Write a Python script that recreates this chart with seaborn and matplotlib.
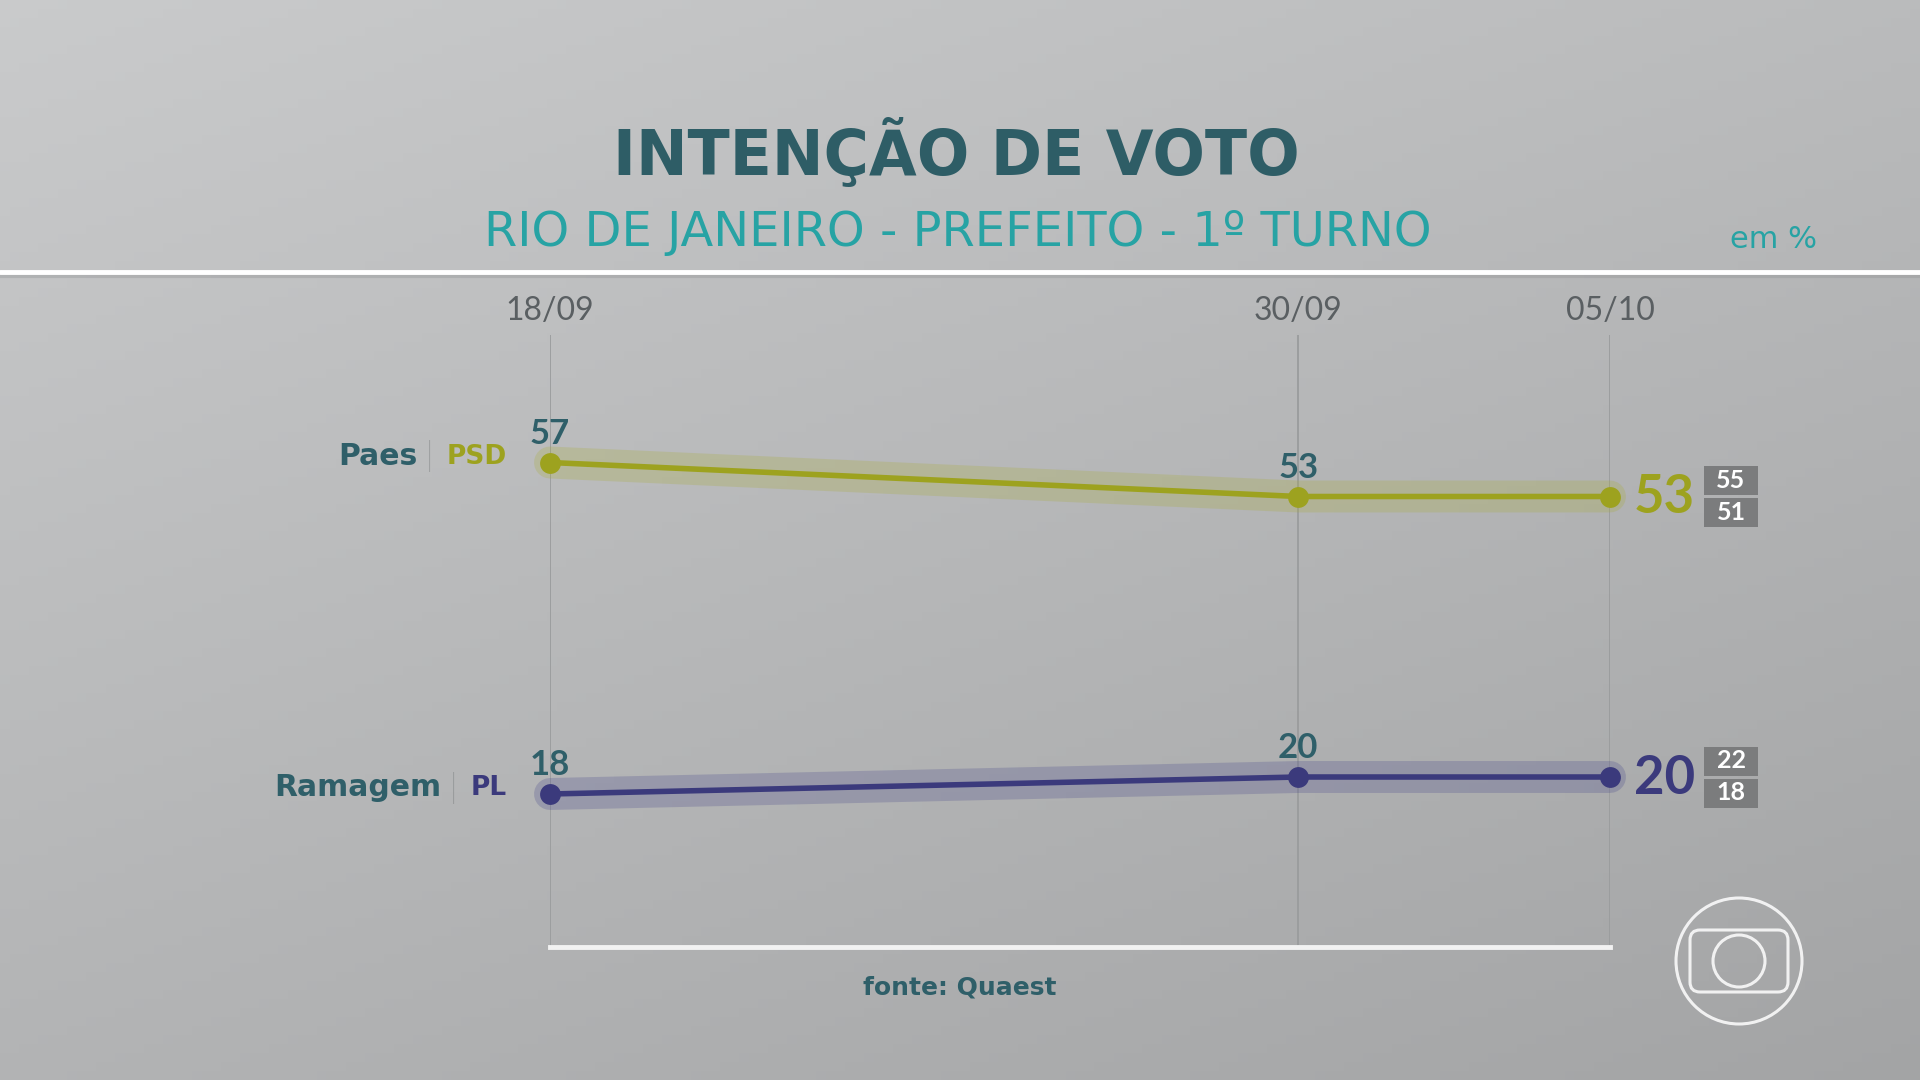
import numpy as np
import pandas as pd
import matplotlib
matplotlib.use("Agg")
import matplotlib.pyplot as plt
import matplotlib.dates as mdates
from matplotlib.patches import Rectangle, Circle, FancyBboxPatch
import seaborn as sns

# ---------------- data ----------------
dates = ["2024-09-18", "2024-09-30", "2024-10-05"]
candidates = ["Paes", "Ramagem"]
parties = ["PSD", "PL"]
paes = [57, 53, 53]
ramagem = [18, 20, 20]
upper = [55, 22]   # margin of error, last poll
lower = [51, 18]
colors = ["#9da21f", "#3b3a7c"]
halo_colors = ["#a9ad3a", "#4a4a8c"]

dt = pd.to_datetime(dates)
df = pd.DataFrame({
    "date": list(dt) * 2,
    "value": paes + ramagem,
    "cand": [candidates[0]] * 3 + [candidates[1]] * 3,
})

sns.set_theme(style="white")
plt.rcParams["font.family"] = ["Lato", "DejaVu Sans"]
WIDE = ["DejaVu Sans"]

W, H = 1920, 1080
fig = plt.figure(figsize=(19.2, 10.8), dpi=100)

# background gradient
bg = fig.add_axes([0, 0, 1, 1], zorder=-10)
gx, gy = np.meshgrid(np.linspace(0, 1, 200), np.linspace(0, 1, 120))
g = 0.79 - 0.06 * gx - 0.09 * gy
rgb = np.dstack([g, g + 0.004, g + 0.008])
bg.imshow(np.clip(rgb, 0, 1), extent=[0, 1, 0, 1], aspect="auto", origin="upper")
bg.set_xlim(0, 1); bg.set_ylim(0, 1)
bg.axis("off")
# top white separator with shadow
bg.axhline(1 - 276 / H, color="#8f9192", lw=3, alpha=0.35)
bg.axhline(1 - 272 / H, color="white", lw=3.5)

# main axes: left 550px, right 1610px, bottom 947px, top 335px
ax = fig.add_axes([550 / W, 1 - 947 / H, 1060 / W, 612 / H])
ax.patch.set_alpha(0)

pal = dict(zip(candidates, colors))
hpal = dict(zip(candidates, halo_colors))
sns.lineplot(data=df, x="date", y="value", hue="cand", palette=hpal, lw=23,
             alpha=0.26, legend=False, ax=ax, solid_capstyle="round")
sns.lineplot(data=df, x="date", y="value", hue="cand", palette=pal, lw=4,
             marker="o", markersize=15, markeredgewidth=0, legend=False, ax=ax)
for ln in ax.lines:
    ln.set_clip_on(False)

ax.set_xlim(dt[0], dt[-1])
ax.set_ylim(0, 72)
ax.set_xticks(dt)
ax.xaxis.set_major_formatter(mdates.DateFormatter("%d/%m"))
ax.xaxis.tick_top()
ax.tick_params(axis="x", length=0, pad=6.5, labelsize=23, labelcolor="#5a5f62")
ax.set_yticks([])
ax.set_xlabel(""); ax.set_ylabel("")
ax.grid(axis="x", color="#9a9c9d", lw=1.3)
ax.grid(axis="y", visible=False)
for s in ["top", "left", "right"]:
    ax.spines[s].set_visible(False)
ax.spines["bottom"].set_color("#f2f2f2")
ax.spines["bottom"].set_linewidth(3.5)

label_col = "#2f5f69"
series = [paes, ramagem]
fig.canvas.draw()
for i, vals in enumerate(series):
    # labels above non-final points
    for d, v in zip(dt[:-1], vals[:-1]):
        ax.annotate(str(v), (d, v), xytext=(0, 29), textcoords="offset pixels",
                    ha="center", va="center", fontsize=25, fontweight="bold",
                    color=label_col)
    # big final value
    ax.annotate(str(vals[-1]), (dt[-1], vals[-1]), xytext=(24, -1),
                textcoords="offset pixels", ha="left", va="center",
                fontsize=38, fontweight="bold", color=colors[i])
    # margin boxes
    px, py = ax.transData.transform((mdates.date2num(dt[-1]), vals[-1]))
    bw, bh = 54, 29
    bx = px + 94
    for (txt, y0) in [(upper[i], py + 1.5), (lower[i], py - 1.5 - bh)]:
        fig.add_artist(Rectangle((bx / W, y0 / H), bw / W, bh / H,
                                 transform=fig.transFigure, fc="#7b7c7d", ec="none"))
        fig.text((bx + bw / 2) / W, (y0 + bh / 2) / H, str(txt), ha="center",
                 va="center", fontsize=18, fontweight="bold", color="white")
    # left name | party
    t1 = ax.annotate(parties[i], (dt[0], vals[0]), xytext=(-43, 6),
                     textcoords="offset pixels", ha="right", va="center",
                     fontsize=19, fontweight="bold", color=colors[i], family=WIDE)
    t2 = ax.annotate("|", xy=(0, 0.5), xycoords=t1, xytext=(-14, 0),
                     textcoords="offset pixels", ha="right", va="center",
                     fontsize=24, fontweight="light", color="#6f7476")
    ax.annotate(candidates[i], xy=(0, 0.5), xycoords=t2, xytext=(-8, 0),
                textcoords="offset pixels", ha="right", va="center",
                fontsize=21.5, fontweight="bold", color=label_col, family=WIDE)

# titles
fig.text(956 / W, 1 - 153 / H, "INTENÇÃO DE VOTO", ha="center", va="center",
         fontsize=44.5, fontweight="bold", color="#2e5d66", family=WIDE)
fig.text(958 / W, 1 - 232 / H, "RIO DE JANEIRO - PREFEITO - 1º TURNO", ha="center",
         va="center", fontsize=34.5, color="#27a3a4", family=WIDE)
fig.text(1773 / W, 1 - 239 / H, "em %", ha="center", va="center", fontsize=22,
         color="#27a3a4", family=WIDE)
fig.text(960 / W, 1 - 988 / H, "fonte: Quaest", ha="center", va="center",
         fontsize=18, fontweight="bold", color="#2f5f69", family=WIDE)

# logo
lg = fig.add_axes([(1739 - 72) / W, 1 - (961 + 72) / H, 144 / W, 144 / H])
lg.set_xlim(-72, 72); lg.set_ylim(-72, 72); lg.axis("off")
lg.patch.set_alpha(0)
lg.add_patch(Circle((0, 0), 63, fill=False, ec="white", lw=2.2, alpha=0.85))
lg.add_patch(FancyBboxPatch((-49, -31), 98, 62, boxstyle="round,pad=0,rounding_size=10",
                            fill=False, ec="white", lw=2.2, alpha=0.85))
lg.add_patch(Circle((0, 0), 26, fill=False, ec="white", lw=2.2, alpha=0.85))

fig.savefig("out.png", dpi=100)
